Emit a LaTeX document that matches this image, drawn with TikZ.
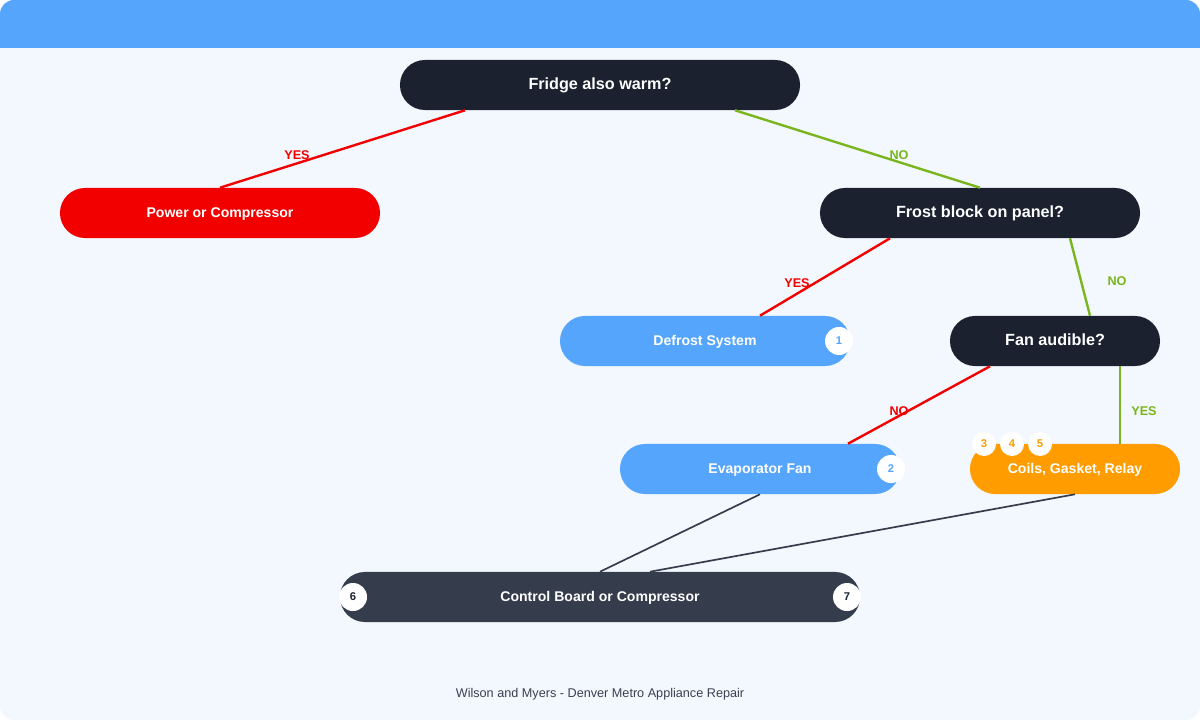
\documentclass[tikz,border=0pt]{standalone}
\usepackage{fontspec}
\setmainfont{Liberation Sans}
\usetikzlibrary{calc}
\definecolor{bgc}{HTML}{F3F8FE}
\definecolor{barc}{HTML}{55A5FD}
\definecolor{darkc}{HTML}{1C2130}
\definecolor{slatec}{HTML}{353C4C}
\definecolor{redc}{HTML}{F20000}
\definecolor{greenc}{HTML}{7AB51D}
\definecolor{orangec}{HTML}{FF9C00}
\definecolor{footc}{HTML}{3A4050}
\tikzset{
  pill/.style={draw=none, rounded corners=0.625cm, minimum height=1.25cm,
    text=white, font=\bfseries, text height=1.6ex, text depth=0.3ex},
  ask/.style={pill, fill=darkc, font=\bfseries\fontsize{11.5}{13}\selectfont},
  badge/.style={circle, fill=white, inner sep=0pt, minimum size=0.7cm,
    font=\bfseries\footnotesize},
  yes/.style={draw=redc, line width=1.7pt},
  no/.style={draw=greenc, line width=1.7pt},
  link/.style={draw=slatec, line width=1.2pt},
  lab/.style={font=\bfseries\small}
}
\begin{document}
\begin{tikzpicture}[x=0.025cm, y=-0.025cm]
  \useasboundingbox (0,0) rectangle (1200,720);
  \fill[bgc, rounded corners=0.35cm] (0,0) rectangle (1200,720);
  \fill[barc, rounded corners=0.35cm] (0,0) rectangle (1200,48);
  \fill[barc] (0,20) rectangle (1200,48);

  % questions and outcomes
  \node[ask, minimum width=10cm] (fridge) at (600,85) {Fridge also warm?};
  \node[pill, fill=redc, minimum width=8cm] (power) at (220,213) {Power or Compressor};
  \node[ask, minimum width=8cm] (frost) at (980,213) {Frost block on panel?};
  \node[pill, fill=barc, minimum width=7.25cm] (defrost) at (705,341) {Defrost System};
  \node[ask, minimum width=5.25cm] (fan) at (1055,341) {Fan audible?};
  \node[pill, fill=barc, minimum width=7cm] (evap) at (760,469) {Evaporator Fan};
  \node[pill, fill=orangec, minimum width=5.25cm] (coils) at (1075,469) {Coils, Gasket, Relay};
  \node[pill, fill=slatec, minimum width=13cm] (board) at (600,597) {Control Board or Compressor};

  % badges
  \node[badge, text=barc] (b1) at (839,341) {1};
  \node[badge, text=barc] (b2) at (891,469) {2};
  \node[badge, text=orangec, minimum size=0.6cm] (b3) at (984,444) {3};
  \node[badge, text=orangec, minimum size=0.6cm] (b4) at (1012,444) {4};
  \node[badge, text=orangec, minimum size=0.6cm] (b5) at (1040,444) {5};
  \node[badge, text=darkc] (b6) at (353,597) {6};
  \node[badge, text=darkc] (b7) at (847,597) {7};

  % connectors
  \draw[yes] ($(fridge.south)+(-135,0)$) -- (power.north);
  \draw[no] ($(fridge.south)+(135,0)$) -- (frost.north);
  \draw[yes] ($(frost.south)+(-90,0)$) -- ($(defrost.north)+(55,0)$);
  \draw[no] ($(frost.south)+(90,0)$) -- ($(fan.north)+(35,0)$);
  \draw[yes] ($(fan.south)+(-65,0)$) -- ($(evap.north)+(88,0)$);
  \draw[no] ($(fan.south)+(65,0)$) -- ($(coils.north)+(45,0)$);
  \draw[link] (evap.south) -- (board.north);
  \draw[link] (coils.south) -- ($(board.north)+(50,0)$);

  % branch labels
  \node[lab, text=redc] (l1) at (297,155) {YES};
  \node[lab, text=greenc] (l2) at (899,155) {NO};
  \node[lab, text=redc] (l3) at (797,283) {YES};
  \node[lab, text=greenc] (l4) at (1117,281) {NO};
  \node[lab, text=redc] (l5) at (899,411) {NO};
  \node[lab, text=greenc] (l6) at (1144,411) {YES};

  \node[text=footc, font=\small] (foot) at (600,694) {Wilson and Myers - Denver Metro Appliance Repair};
\end{tikzpicture}
\end{document}
